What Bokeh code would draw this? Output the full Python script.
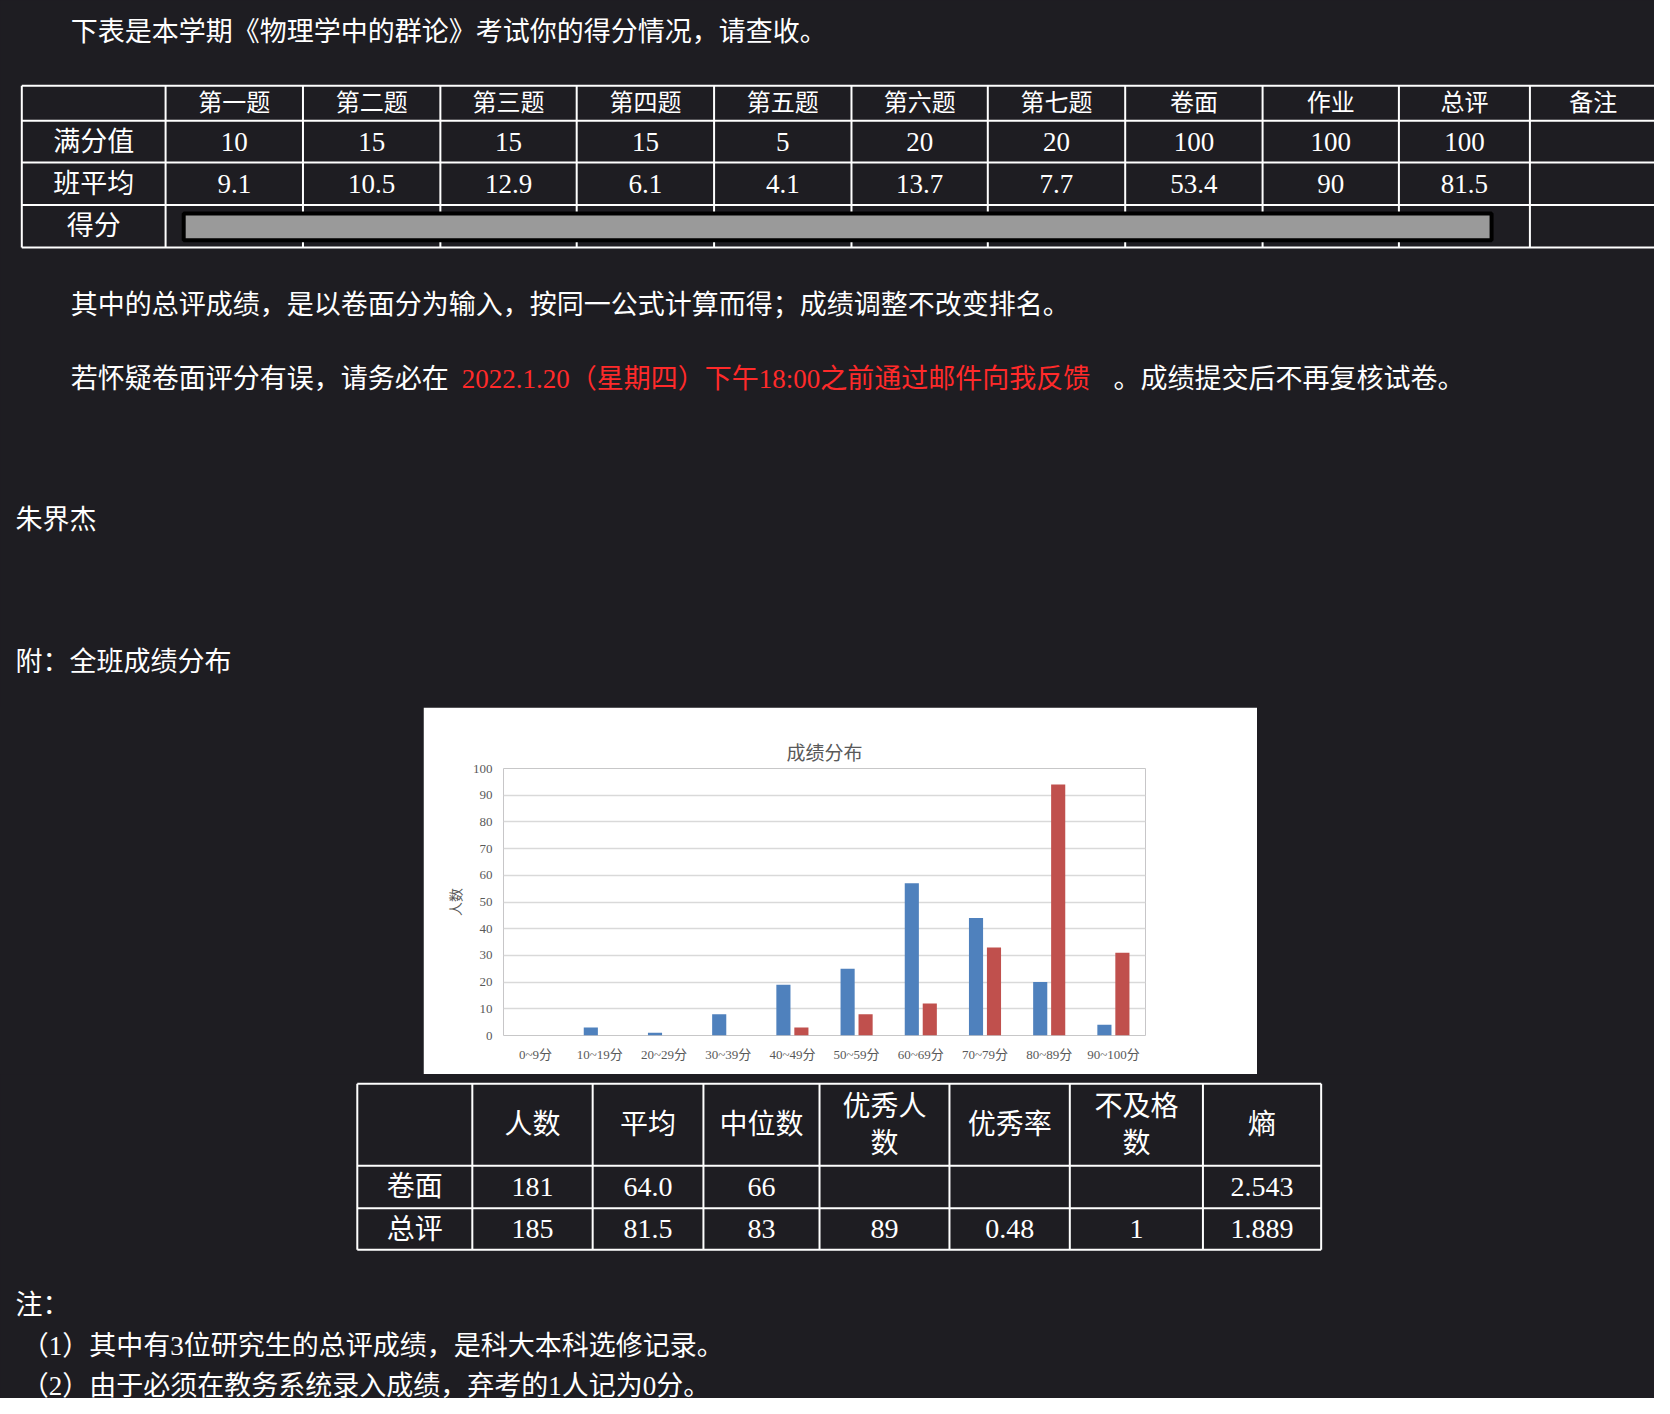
from bokeh.plotting import figure
from bokeh.models import Range1d, FactorRange, Legend, LegendItem, Spacer
from bokeh.layouts import column, row
from bokeh.transform import dodge
from bokeh.core.properties import value
from bokeh.embed import file_html
from bokeh.resources import INLINE

BG = "#1e1d22"
F = value("Liberation Serif, Noto Sans CJK SC")
S = 1670 / 1568.0
def D(v): return v * S

# ---------- data ----------
intro = "下表是本学期《物理学中的群论》考试你的得分情况，请查收。"
t1_header = ["", "第一题", "第二题", "第三题", "第四题", "第五题", "第六题", "第七题", "卷面", "作业", "总评", "备注"]
t1_full = ["满分值", "10", "15", "15", "15", "5", "20", "20", "100", "100", "100", ""]
t1_avg = ["班平均", "9.1", "10.5", "12.9", "6.1", "4.1", "13.7", "7.7", "53.4", "90", "81.5", ""]
t1_score_label = "得分"
note1 = "其中的总评成绩，是以卷面分为输入，按同一公式计算而得；成绩调整不改变排名。"
warn_a = "若怀疑卷面评分有误，请务必在"
warn_b = "2022.1.20（星期四）下午18:00之前通过邮件向我反馈"
warn_c = "。成绩提交后不再复核试卷。"
name = "朱界杰"
appendix = "附：全班成绩分布"

cats = ["0~9分", "10~19分", "20~29分", "30~39分", "40~49分", "50~59分", "60~69分", "70~79分", "80~89分", "90~100分"]
paper = [0, 3, 1, 8, 19, 25, 57, 44, 20, 4]
total = [0, 0, 0, 0, 3, 8, 12, 33, 94, 31]

t2_header = ["", "人数", "平均", "中位数", "优秀人\n数", "优秀率", "不及格\n数", "熵"]
t2_paper = ["卷面", "181", "64.0", "66", "", "", "", "2.543"]
t2_total = ["总评", "185", "81.5", "83", "89", "0.48", "1", "1.889"]
notes = ["注：", "（1）其中有3位研究生的总评成绩，是科大本科选修记录。", "（2）由于必须在教务系统录入成绩，弃考的1人记为0分。"]

def blank(w, h, x0, x1, y0, y1):
    p = figure(width=w, height=h, x_range=Range1d(x0, x1), y_range=Range1d(y1, y0),
               output_backend="svg", toolbar_location=None, min_border=0)
    p.axis.visible = False
    p.grid.visible = False
    p.outline_line_color = None
    p.background_fill_color = BG
    p.border_fill_color = BG
    return p

def txt(p, xs, ys, ts, size, color="white", align="center"):
    p.text(x=xs, y=ys, text=ts, text_font=F, text_font_size=size, text_color=color,
           text_align=align, text_baseline="middle")

def grid_lines(p, xe, ye, color="white", w=2):
    x0s, y0s, x1s, y1s = [], [], [], []
    for x in xe:
        x0s.append(x); x1s.append(x); y0s.append(ye[0]); y1s.append(ye[-1])
    for y in ye:
        x0s.append(xe[0]); x1s.append(xe[-1]); y0s.append(y); y1s.append(y)
    p.segment(x0=x0s, y0=y0s, x1=x1s, y1=y1s, line_color=color, line_width=w)

# ---------- top ----------
top = blank(1654, 707, 0, 1654, 0, 707)
txt(top, [D(66)], [D(30)], [intro], "27px", align="left")
xe = [D(v) for v in [20, 155, 284, 413, 541, 670, 799, 927, 1056, 1185, 1313, 1436, 1555]]
ye = [D(v) for v in [80, 113, 152, 192, 232]]
grid_lines(top, xe, ye)
cx = [(xe[i] + xe[i + 1]) / 2 for i in range(len(xe) - 1)]
txt(top, cx, [(ye[0] + ye[1]) / 2] * len(cx), t1_header, "24px")
txt(top, cx, [(ye[1] + ye[2]) / 2] * len(cx), t1_full, "27px")
txt(top, cx, [(ye[2] + ye[3]) / 2] * len(cx), t1_avg, "27px")
txt(top, [cx[0]], [(ye[3] + ye[4]) / 2], [t1_score_label], "27px")
top.quad(left=D(172), right=D(1400), top=D(200), bottom=D(225), fill_color="#9a9a9a",
         line_color="black", line_width=4)
txt(top, [D(66)], [D(286)], [note1], "27px", align="left")
txt(top, [D(66)], [D(355)], [warn_a], "27px", align="left")
txt(top, [D(433)], [D(355)], [warn_b], "27px", color="#ff2a2a", align="left")
txt(top, [D(1045)], [D(355)], [warn_c], "27px", align="left")
txt(top, [D(14)], [D(488)], [name], "27px", align="left")
txt(top, [D(14)], [D(621)], [appendix], "27px", align="left")

# ---------- chart ----------
ch = figure(frame_width=642, frame_height=267, x_range=FactorRange(*cats), y_range=Range1d(0, 100),
            output_backend="svg", toolbar_location=None,
            min_border_left=80, min_border_right=112, min_border_top=61, min_border_bottom=39)
ch.title.text = "成绩分布"
ch.title.align = "center"
ch.title.text_font = "Liberation Serif, Noto Sans CJK SC"
ch.title.text_font_size = "19px"
ch.title.text_font_style = "normal"
ch.title.text_color = "#595959"
ch.outline_line_color = None
ch.background_fill_color = "white"
ch.border_fill_color = "white"
src = dict(c=cats, a=paper, b=total)
r1 = ch.vbar(x=dodge("c", -0.14, range=ch.x_range), top="a", width=0.22, source=src,
             fill_color="#4f81bd", line_color=None)
r2 = ch.vbar(x=dodge("c", 0.14, range=ch.x_range), top="b", width=0.22, source=src,
             fill_color="#c0504d", line_color=None)
ch.yaxis.ticker = list(range(0, 101, 10))
ch.ygrid.grid_line_color = "#d9d9d9"
ch.ygrid.grid_line_width = 1.5
ch.xgrid.grid_line_color = None
for ax in (ch.xaxis[0], ch.yaxis[0]):
    ax.axis_line_color = None
    ax.major_tick_line_color = None
    ax.minor_tick_line_color = None
    ax.major_label_text_color = "#595959"
    ax.major_label_text_font = "Liberation Serif, Noto Sans CJK SC"
    ax.major_label_text_font_size = "13px"
ch.yaxis.axis_label = "人数"
ch.yaxis.axis_label_text_color = "#595959"
ch.yaxis.axis_label_text_font = "Noto Sans CJK SC"
ch.yaxis.axis_label_text_font_size = "14px"
ch.yaxis.axis_label_text_font_style = "normal"
leg = Legend(items=[LegendItem(label="卷面总分", renderers=[r1]), LegendItem(label="总成绩", renderers=[r2])],
             location=(662, 100), border_line_color=None, background_fill_alpha=0,
             label_text_color="#595959", label_text_font="Noto Sans CJK SC", label_text_font_size="13px",
             glyph_width=9, glyph_height=9, spacing=6, padding=4, label_standoff=4)
ch.add_layout(leg, "center")

mid = row(Spacer(width=423, height=367, styles={"background-color": BG}), ch,
          Spacer(width=397, height=367, styles={"background-color": BG}))

# ---------- bottom ----------
bot = blank(1654, 324, 0, 1654, 1074, 1398)
xe2 = [D(v) for v in [335, 443, 556, 660, 769, 891, 1004, 1129, 1240]]
ye2 = [D(v) for v in [1017, 1094, 1134, 1173]]
grid_lines(bot, xe2, ye2)
cx2 = [(xe2[i] + xe2[i + 1]) / 2 for i in range(len(xe2) - 1)]
txt(bot, cx2, [(ye2[0] + ye2[1]) / 2] * len(cx2), t2_header, "28px")
txt(bot, cx2, [(ye2[1] + ye2[2]) / 2] * len(cx2), t2_paper, "28px")
txt(bot, cx2, [(ye2[2] + ye2[3]) / 2] * len(cx2), t2_total, "28px")
txt(bot, [D(14), D(20), D(20)], [D(1225), D(1263), D(1301)], notes, "27px", align="left")

lay = column(top, mid, bot, styles={"background-color": BG})
html = file_html(lay, INLINE, title="成绩")
html = html.replace("<body>", '<body style="background:%s;margin:8px">' % BG, 1)
open("out.html", "w").write(html)
